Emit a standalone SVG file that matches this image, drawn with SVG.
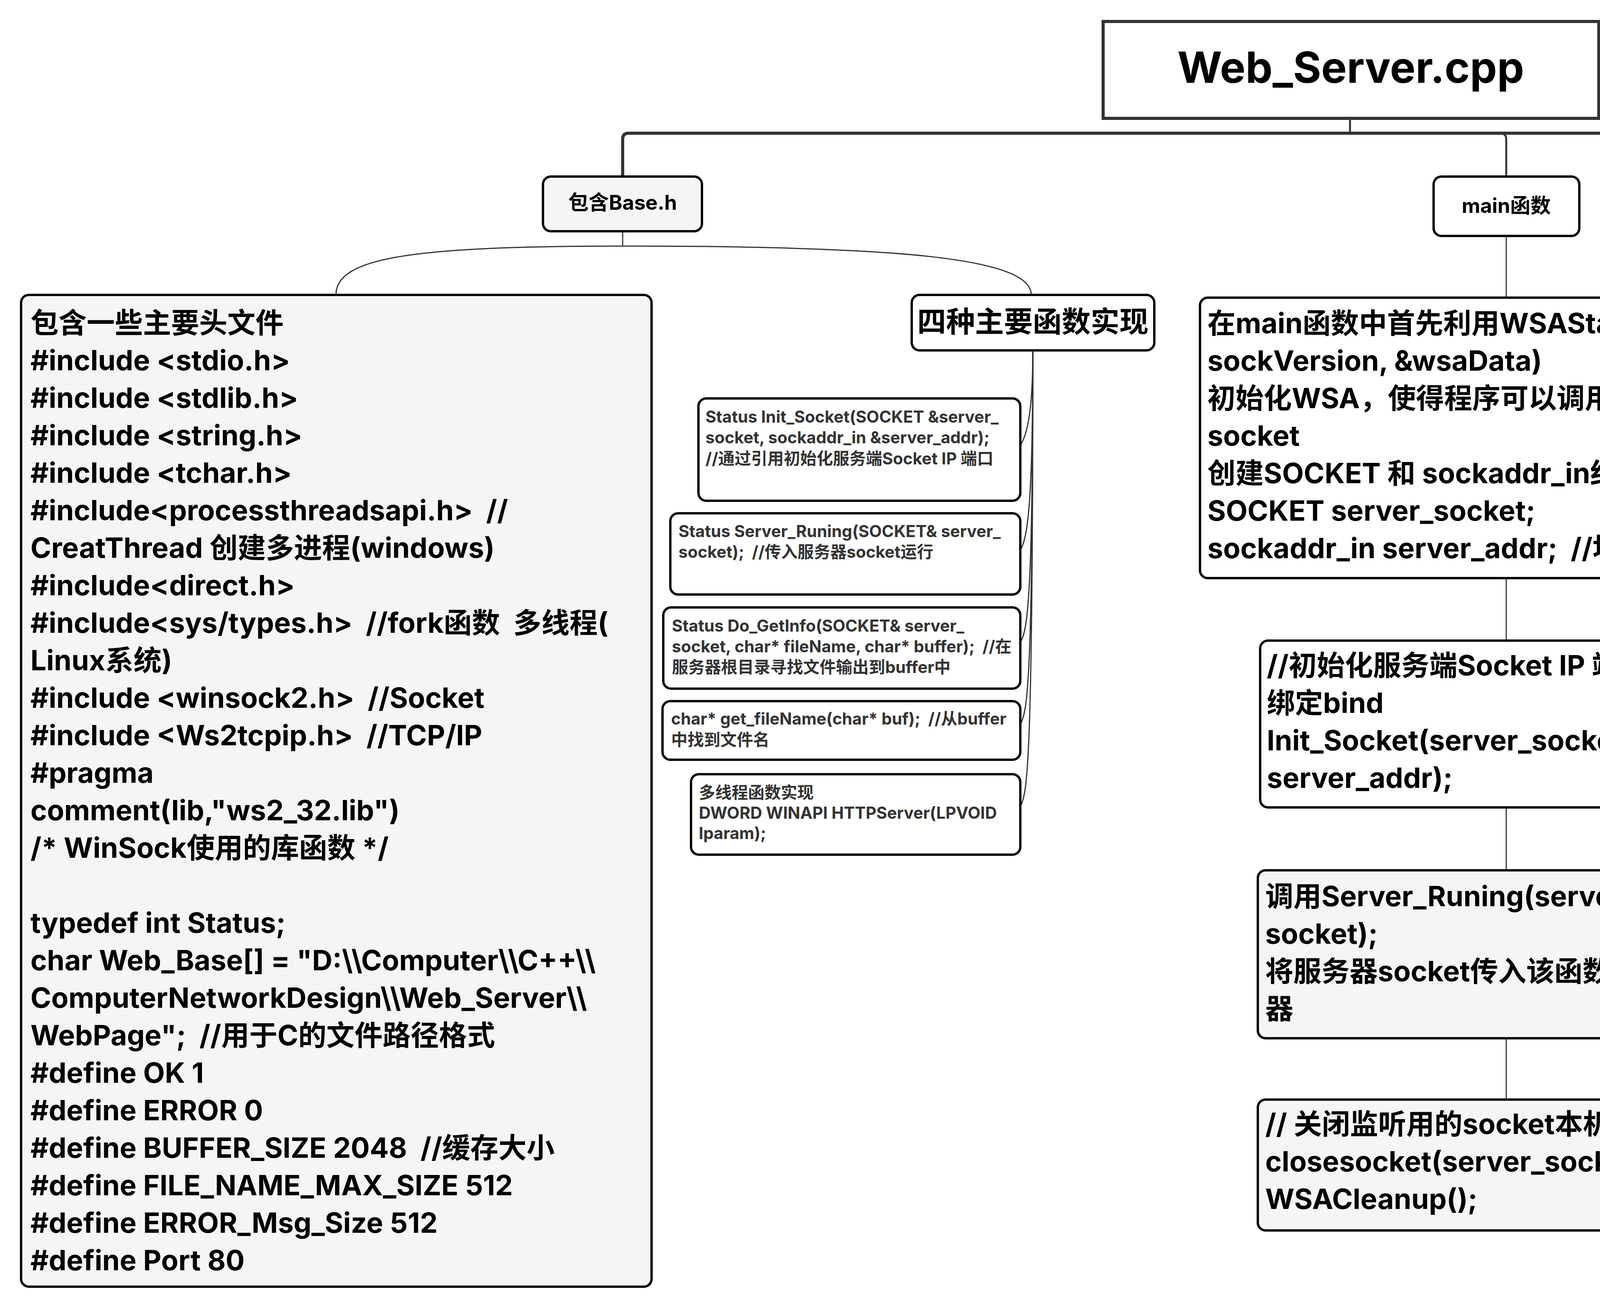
<svg xmlns="http://www.w3.org/2000/svg" width="6112" height="3346" viewBox="0 0 6112 3346">
<style>
.bx{stroke:#000;stroke-width:6}
.w{fill:#fff}
.g{fill:#f5f5f5}
.t{font-family:Inter,"Noto Sans CJK SC",sans-serif;font-weight:700;white-space:pre}
.k{fill:#000}
.d{fill:#333}
.ln{fill:none;stroke:#333;stroke-width:3}
.c{text-anchor:middle}
.f70{font-size:72px}
.f40{font-size:42px}
</style>
<rect width="6112" height="3346" fill="#fff"/>
<g id="connectors">
<path d="M3456 301 V341" fill="none" stroke="#333" stroke-width="5"/>
<path d="M1594 452 V356 Q1594 341 1609 341 H5445 Q5461 341 5461 356 V452" fill="none" stroke="#333" stroke-width="8"/>
<path d="M3840 341 Q3856 341 3856 357 V452" fill="none" stroke="#333" stroke-width="5"/>
<path class="ln" d="M1594 592 V630"/>
<path class="ln" d="M1594 630 C1050 630 860 660 860 755"/>
<path class="ln" d="M1594 630 C2300 630 2640 660 2640 755"/>
<path class="ln" d="M2644 897 C2644 1040 2632 1110 2612 1140"/>
<path class="ln" d="M2644 897 C2644 1300 2630 1378 2612 1408"/>
<path class="ln" d="M2644 897 C2644 1540 2630 1615 2612 1645"/>
<path class="ln" d="M2644 897 C2644 1750 2630 1824 2612 1854"/>
<path class="ln" d="M2644 897 C2644 1960 2630 2034 2612 2064"/>
<path class="ln" d="M3856 604 V762"/>
<path class="ln" d="M3856 1480 V1640"/>
<path class="ln" d="M3856 2067 V2228"/>
<path class="ln" d="M3856 2658 V2815"/>
<path class="ln" d="M5466 724 V762"/>
<path class="ln" d="M5466 762 C5110 762 5020 800 5020 879"/>
<path class="ln" d="M5466 762 C5510 762 5524 790 5524 879"/>
<path class="ln" d="M5466 762 C5840 762 5912 800 5912 879"/>
<path class="ln" d="M5020 1000 V1157"/>
</g>
<g id="root">
<rect x="2824" y="55" width="1269" height="248" fill="#fff" stroke="#333" stroke-width="8"/>
<text class="t k c" x="3458" y="212" font-size="110">Web_Server.cpp</text>
</g>
<g id="base">
<rect class="bx g" x="1390" y="452" width="407" height="140" rx="20"/>
<text class="t k c" x="1594" y="537" font-size="52">包含Base.h</text>
</g>
<g id="headers">
<rect class="bx g" x="54" y="755" width="1614" height="2539" rx="20"/>
<text class="t k f70" x="78">
<tspan x="78" y="852">包含一些主要头文件</tspan>
<tspan x="78" y="948">#include &lt;stdio.h&gt;</tspan>
<tspan x="78" y="1044">#include &lt;stdlib.h&gt;</tspan>
<tspan x="78" y="1140">#include &lt;string.h&gt;</tspan>
<tspan x="78" y="1236">#include &lt;tchar.h&gt;</tspan>
<tspan x="78" y="1332">#include&lt;processthreadsapi.h&gt;  //</tspan>
<tspan x="78" y="1428">CreatThread 创建多进程(windows)</tspan>
<tspan x="78" y="1524">#include&lt;direct.h&gt;</tspan>
<tspan x="78" y="1620">#include&lt;sys/types.h&gt;  //fork函数  多线程(</tspan>
<tspan x="78" y="1716">Linux系统)</tspan>
<tspan x="78" y="1812">#include &lt;winsock2.h&gt;  //Socket</tspan>
<tspan x="78" y="1908">#include &lt;Ws2tcpip.h&gt;  //TCP/IP</tspan>
<tspan x="78" y="2004">#pragma</tspan>
<tspan x="78" y="2100">comment(lib,"ws2_32.lib")</tspan>
<tspan x="78" y="2196">/* WinSock使用的库函数 */</tspan>
<tspan x="78" y="2388">typedef int Status;</tspan>
<tspan x="78" y="2484">char Web_Base[] = "D:\\Computer\\C++\\</tspan>
<tspan x="78" y="2580">ComputerNetworkDesign\\Web_Server\\</tspan>
<tspan x="78" y="2676">WebPage";  //用于C的文件路径格式</tspan>
<tspan x="78" y="2772">#define OK 1</tspan>
<tspan x="78" y="2868">#define ERROR 0</tspan>
<tspan x="78" y="2964">#define BUFFER_SIZE 2048  //缓存大小</tspan>
<tspan x="78" y="3060">#define FILE_NAME_MAX_SIZE 512</tspan>
<tspan x="78" y="3156">#define ERROR_Msg_Size 512</tspan>
<tspan x="78" y="3252">#define Port 80</tspan>
</text>
</g>
<g id="four">
<rect class="bx w" x="2334" y="755" width="621" height="142" rx="20"/>
<text class="t k c" x="2644" y="850" font-size="74">四种主要函数实现</text>
</g>
<g id="fn1">
<rect class="bx w" x="1788" y="1020" width="824" height="262" rx="20"/>
<text class="t d f40"><tspan x="1806" y="1082">Status Init_Socket(SOCKET &amp;server_</tspan><tspan x="1806" y="1135">socket, sockaddr_in &amp;server_addr);</tspan><tspan x="1806" y="1189">//通过引用初始化服务端Socket IP 端口</tspan></text>
</g>
<g id="fn2">
<rect class="bx w" x="1716" y="1314" width="896" height="208" rx="20"/>
<text class="t d f40"><tspan x="1737" y="1375">Status Server_Runing(SOCKET&amp; server_</tspan><tspan x="1737" y="1428">socket);  //传入服务器socket运行</tspan></text>
</g>
<g id="fn3">
<rect class="bx w" x="1698" y="1555" width="914" height="208" rx="20"/>
<text class="t d f40"><tspan x="1720" y="1617">Status Do_GetInfo(SOCKET&amp; server_</tspan><tspan x="1720" y="1670">socket, char* fileName, char* buffer);  //在</tspan><tspan x="1720" y="1723">服务器根目录寻找文件输出到buffer中</tspan></text>
</g>
<g id="fn4">
<rect class="bx w" x="1696" y="1795" width="916" height="150" rx="20"/>
<text class="t d f40"><tspan x="1718" y="1855">char* get_fileName(char* buf);  //从buffer</tspan><tspan x="1718" y="1909">中找到文件名</tspan></text>
</g>
<g id="fn5">
<rect class="bx w" x="1769" y="1982" width="843" height="206" rx="20"/>
<text class="t d f40"><tspan x="1789" y="2044">多线程函数实现</tspan><tspan x="1789" y="2096">DWORD WINAPI HTTPServer(LPVOID</tspan><tspan x="1789" y="2148">lparam);</tspan></text>
</g>
<g id="main">
<rect class="bx w" x="3670" y="452" width="373" height="152" rx="20"/>
<text class="t k c" x="3856" y="545" font-size="52">main函数</text>
</g>
<g id="main1">
<rect class="bx w" x="3072" y="762" width="1568" height="718" rx="20"/>
<text class="t k f70"><tspan x="3091" y="853">在main函数中首先利用WSAStartup(</tspan><tspan x="3091" y="949">sockVersion, &amp;wsaData)</tspan><tspan x="3091" y="1045">初始化WSA，使得程序可以调用windows</tspan><tspan x="3091" y="1141">socket</tspan><tspan x="3091" y="1237">创建SOCKET 和 sockaddr_in结构体</tspan><tspan x="3091" y="1333">SOCKET server_socket;</tspan><tspan x="3091" y="1429">sockaddr_in server_addr;  //地址结构体</tspan></text>
</g>
<g id="main2">
<rect class="bx w" x="3226" y="1640" width="1261" height="427" rx="20"/>
<text class="t k f70"><tspan x="3243" y="1729">//初始化服务端Socket IP 端口 并且</tspan><tspan x="3243" y="1825">绑定bind</tspan><tspan x="3243" y="1921">Init_Socket(server_socket,</tspan><tspan x="3243" y="2017">server_addr);</tspan></text>
</g>
<g id="main3">
<rect class="bx g" x="3220" y="2228" width="1270" height="430" rx="20"/>
<text class="t k f70"><tspan x="3239" y="2320">调用Server_Runing(server_</tspan><tspan x="3239" y="2416">socket);</tspan><tspan x="3239" y="2512">将服务器socket传入该函数运行服务</tspan><tspan x="3239" y="2608">器</tspan></text>
</g>
<g id="main4">
<rect class="bx g" x="3220" y="2815" width="1270" height="335" rx="20"/>
<text class="t k f70"><tspan x="3239" y="2903">// 关闭监听用的socket本机Socket</tspan><tspan x="3239" y="2999">closesocket(server_socket);</tspan><tspan x="3239" y="3095">WSACleanup();</tspan></text>
</g>
<g id="res">
<rect class="bx g" x="5015" y="452" width="906" height="272" rx="20"/>
<text class="t d" font-size="72"><tspan x="5074" y="569">资源文件</tspan><tspan x="5074" y="664">在源文件的WebPage下</tspan></text>
</g>
<g id="img">
<rect class="bx w" x="4770" y="879" width="502" height="121" rx="20"/>
<text class="t k c" x="5021" y="955" font-size="50">WebPage/Image</text>
</g>
<g id="html">
<rect class="bx w" x="5320" y="879" width="420" height="121" rx="20"/>
<text class="t d c" x="5530" y="955" font-size="50">HTML静态页面</text>
</g>
<g id="css">
<rect class="bx w" x="5770" y="879" width="292" height="121" rx="20"/>
<text class="t d c" x="5916" y="955" font-size="50">css样式表</text>
</g>
<g id="png">
<rect class="bx w" x="4752" y="1157" width="536" height="120" rx="20"/>
<text class="t d c" x="5020" y="1234" font-size="50">png图片 和 jgp图片</text>
</g>
</svg>
